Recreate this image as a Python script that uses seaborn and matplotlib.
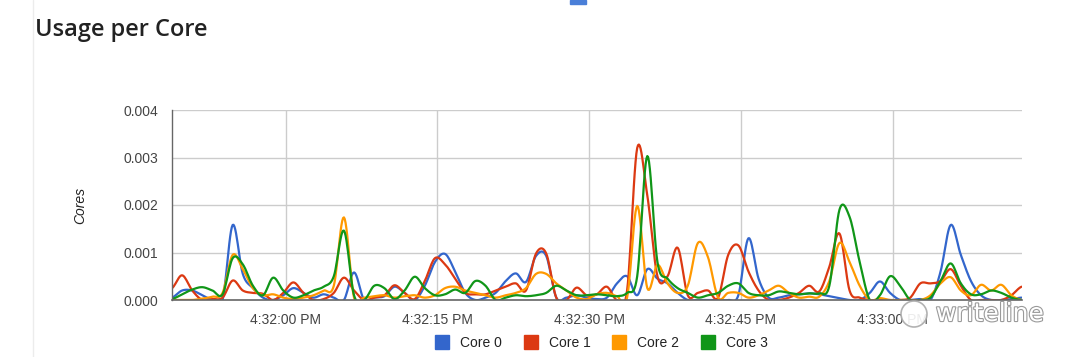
import numpy as np
import pandas as pd
import matplotlib
matplotlib.use("Agg")
import matplotlib.pyplot as plt
import matplotlib.patheffects as pe
from matplotlib.lines import Line2D
from matplotlib.patches import Rectangle, Ellipse
import seaborn as sns

# ---------------- data (in units of 0.001 cores) ----------------
start_time = "2024-01-01 16:31:48.75"
sample_seconds = 1.0
series_names = ["Core 0", "Core 1", "Core 2", "Core 3"]
series_colors = ["#3366cc", "#dc3912", "#ff9900", "#109618"]

core0_milli = [0.05, 0.2, 0.2, 0.1, 0.0, 0.0, 1.58, 0.55, 0.25, 0.05, 0.0, 0.1, 0.25, 0.15, 0.05, 0.12, 0.05, 0.0, 0.58, 0.0, 0.05, 0.08,
               0.28, 0.15, 0.0, 0.3, 0.8, 0.97, 0.6, 0.15, 0.0, 0.05, 0.15, 0.4, 0.56, 0.38, 0.93, 0.93, 0.05, 0.05, 0.1, 0.05, 0.02,
               0.05, 0.35, 0.5, 0.1, 0.65, 0.45, 0.35, 0.15, 0.0, 0.0, 0.0, 0.0, 0.0, 0.1, 1.3, 0.45, 0.05, 0.05, 0.1, 0.12,
               0.14, 0.12, 0.08, 0.04, 0.0, 0.0, 0.15, 0.39, 0.15, 0.0, 0.0, 0.02, 0.0, 0.6, 1.58, 0.95, 0.4, 0.1, 0.0, 0.0, 0.02, 0.05]
core1_milli = [0.25, 0.52, 0.2, 0.0, 0.02, 0.05, 0.41, 0.2, 0.15, 0.13, 0.0, 0.15, 0.37, 0.15, 0.0, 0.02, 0.15, 0.47, 0.2, 0.0, 0.05, 0.1,
               0.31, 0.15, 0.02, 0.4, 0.88, 0.75, 0.45, 0.15, 0.12, 0.12, 0.2, 0.28, 0.35, 0.2, 0.98, 0.98, 0.05, 0.0, 0.26, 0.1, 0.12,
               0.28, 0.0, 0.2, 3.2, 2.2, 0.5, 0.5, 1.1, 0.1, 0.15, 0.2, 0.05, 0.95, 1.15, 0.6, 0.2, 0.0, 0.0, 0.05, 0.15,
               0.3, 0.18, 0.7, 1.4, 0.2, 0.05, 0.0, 0.0, 0.0, 0.0, 0.05, 0.35, 0.35, 0.4, 0.65, 0.3, 0.0, 0.0, 0.0, 0.0, 0.1, 0.28]
core2_milli = [0.0, 0.0, 0.0, 0.03, 0.07, 0.15, 0.95, 0.65, 0.25, 0.1, 0.12, 0.05, 0.02, 0.05, 0.1, 0.2, 0.3, 1.74, 0.05, 0.05, 0.08, 0.1,
               0.05, 0.08, 0.1, 0.05, 0.1, 0.25, 0.28, 0.2, 0.15, 0.1, 0.05, 0.1, 0.15, 0.25, 0.55, 0.55, 0.35, 0.2, 0.05, 0.02, 0.12,
               0.15, 0.08, 0.05, 1.98, 0.25, 0.74, 0.35, 0.15, 0.3, 1.2, 0.9, 0.05, 0.15, 0.15, 0.05, 0.1, 0.2, 0.3, 0.15, 0.05,
               0.07, 0.07, 0.4, 1.2, 0.8, 0.3, 0.0, 0.04, 0.0, 0.0, 0.0, 0.0, 0.1, 0.35, 0.48, 0.2, 0.1, 0.32, 0.2, 0.32, 0.1, 0.0]
core3_milli = [0.02, 0.12, 0.22, 0.27, 0.2, 0.12, 0.88, 0.75, 0.3, 0.1, 0.47, 0.2, 0.05, 0.1, 0.2, 0.28, 0.5, 1.46, 0.1, 0.0, 0.3, 0.25,
               0.02, 0.2, 0.49, 0.25, 0.1, 0.12, 0.22, 0.15, 0.4, 0.3, 0.0, 0.05, 0.1, 0.08, 0.1, 0.15, 0.3, 0.2, 0.1, 0.1, 0.12,
               0.1, 0.08, 0.15, 0.5, 3.03, 0.8, 0.45, 0.25, 0.15, 0.05, 0.1, 0.15, 0.3, 0.35, 0.15, 0.1, 0.1, 0.18, 0.15, 0.12,
               0.14, 0.14, 0.3, 1.9, 1.75, 0.8, 0.0, 0.1, 0.5, 0.3, 0.0, 0.0, 0.05, 0.4, 0.77, 0.35, 0.12, 0.12, 0.2, 0.15, 0.05, 0.0]

y_ticks = [0.000, 0.001, 0.002, 0.003, 0.004]
x_tick_times = ["2024-01-01 16:32:00", "2024-01-01 16:32:15", "2024-01-01 16:32:30",
                "2024-01-01 16:32:45", "2024-01-01 16:33:00"]
x_tick_labels = ["4:32:00 PM", "4:32:15 PM", "4:32:30 PM", "4:32:45 PM", "4:33:00 PM"]
title_text = "Usage per Core"
y_label = "Cores"

# ---------------- smooth curve rendering (like Google Charts curveType='function') ----------------
def smooth(y, steps=12):
    y = np.asarray(y, dtype=float)
    n = len(y)
    us, vs = [], []
    for i in range(n - 1):
        p0 = y[i - 1] if i > 0 else y[i]
        p1, p2 = y[i], y[i + 1]
        p3 = y[i + 2] if i + 2 < n else y[i + 1]
        u = np.linspace(0, 1, steps, endpoint=False)
        v = 0.5 * (2 * p1 + (-p0 + p2) * u + (2 * p0 - 5 * p1 + 4 * p2 - p3) * u ** 2
                   + (-p0 + 3 * p1 - 3 * p2 + p3) * u ** 3)
        us.append(i + u)
        vs.append(v)
    us.append(np.array([n - 1.0]))
    vs.append(np.array([y[-1]]))
    return np.concatenate(us), np.concatenate(vs)

t0 = pd.Timestamp(start_time)
frames = []
for name, vals in zip(series_names, [core0_milli, core1_milli, core2_milli, core3_milli]):
    idx, v = smooth(vals)
    frames.append(pd.DataFrame({
        "time": t0 + pd.to_timedelta(idx * sample_seconds, unit="s"),
        "usage": v / 1000.0,
        "core": name,
    }))
df = pd.concat(frames, ignore_index=True)
n_samples = len(core0_milli)

# ---------------- figure ----------------
sns.set_theme(style="white")
plt.rcParams["font.family"] = ["Liberation Sans", "DejaVu Sans"]

fig = plt.figure(figsize=(10.8, 3.57), dpi=100)
ax = fig.add_axes([172 / 1080, 57 / 357, 850 / 1080, 190 / 357])

sns.lineplot(data=df, x="time", y="usage", hue="core", hue_order=series_names,
             palette=series_colors, linewidth=1.6, legend=False, ax=ax, sort=False,
             estimator=None)

ax.set_ylim(0, 0.004)
ax.set_xlim(t0, t0 + pd.Timedelta(seconds=(n_samples - 1) * sample_seconds + 0.05))
ax.set_yticks(y_ticks)
ax.set_yticklabels([f"{v:.3f}" for v in y_ticks])
ax.set_xticks([pd.Timestamp(t) for t in x_tick_times])
ax.set_xticklabels(x_tick_labels)
ax.tick_params(axis="both", length=0, labelsize=10, colors="#444444")
ax.tick_params(axis="x", pad=9)
ax.tick_params(axis="y", pad=10)
ax.grid(True, color="#cccccc", linewidth=1.0)
ax.set_axisbelow(True)
for side in ["top", "right"]:
    ax.spines[side].set_visible(False)
ax.spines["left"].set_color("#666666")
ax.spines["left"].set_linewidth(1.0)
ax.spines["bottom"].set_color("#666666")
ax.spines["bottom"].set_linewidth(1.2)
ax.set_xlabel("")
ax.set_ylabel(y_label, fontsize=10, style="italic", color="#222222")
ax.yaxis.set_label_coords(-0.100, 0.5)

# legend (square swatches)
handles = [Line2D([0], [0], marker="s", linestyle="none", markersize=10,
                  markerfacecolor=c, markeredgecolor=c) for c in series_colors]
fig.legend(handles, series_names, loc="center", bbox_to_anchor=(598 / 1080, 1 - 343 / 357),
           ncol=4, frameon=False, fontsize=10, handletextpad=0.3, columnspacing=1.05,
           labelcolor="#222222")

# title
fig.text(35 / 1080, 1 - 30 / 357, title_text, ha="left", va="center",
         fontsize=17, fontweight="semibold", color="#222222", family=["Open Sans", "DejaVu Sans"])

# card border and small element at top
fig.add_artist(Line2D([33 / 1080, 33 / 1080], [0, 1], transform=fig.transFigure,
                      color="#ececec", linewidth=1.0))
fig.add_artist(Rectangle((570 / 1080, 1 - 4 / 357), 16 / 1080, 4 / 357,
                         transform=fig.transFigure, color="#4a7fd8"))

# watermark
fig.add_artist(Ellipse((914 / 1080, 1 - 314 / 357), 26 / 1080, 26 / 357, transform=fig.transFigure,
                       facecolor="white", edgecolor="#aaaaaa", linewidth=1.2, alpha=0.9))
fig.text(990 / 1080, 1 - 314 / 357, "writeline", ha="center", va="center", fontsize=18,
         color="white", family=["DejaVu Sans"],
         path_effects=[pe.withStroke(linewidth=1.6, foreground="#9a9a9a")])

fig.savefig("out.png", dpi=100)
